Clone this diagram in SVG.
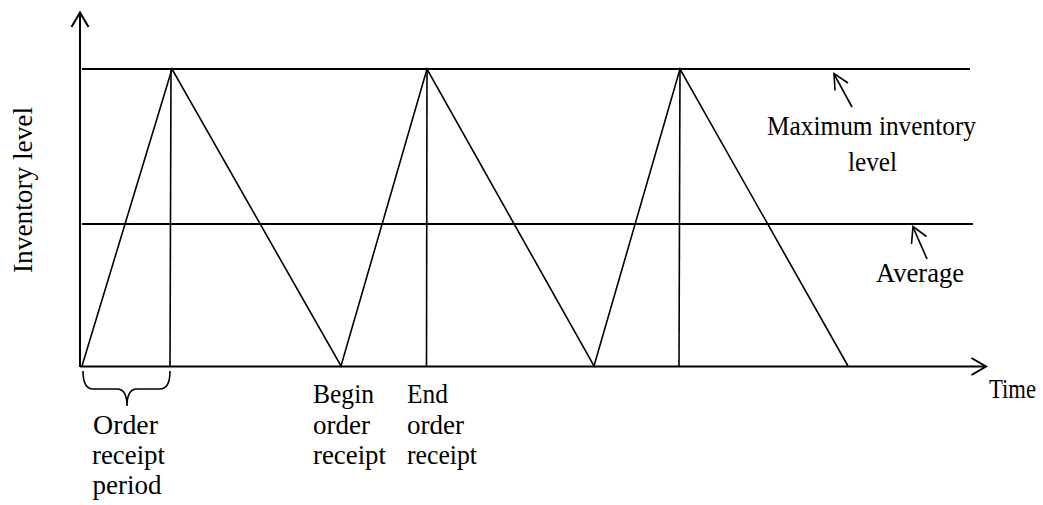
<svg xmlns="http://www.w3.org/2000/svg" width="1043" height="505" viewBox="0 0 1043 505">
<style>
.ln{stroke:#000;stroke-width:2;fill:none;stroke-linecap:butt}
.th{stroke:#000;stroke-width:1.6;fill:none}
.t{font-family:'Liberation Serif','Times New Roman',serif;font-size:27px;fill:#000}
</style>
<rect width="1043" height="505" fill="#fff"/>
<g id="axes">
<line class="ln" x1="80" y1="367" x2="80" y2="13"/>
<polyline class="ln" points="71.5,27 80,12.5 88.5,27"/>
<line class="ln" x1="80" y1="366.5" x2="985" y2="366.5"/>
<polyline class="ln" points="971.5,358 986,366.5 971.5,375"/>
</g>
<g id="levels">
<line class="ln" x1="82" y1="69" x2="970" y2="69"/>
<line class="ln" x1="82" y1="224" x2="973" y2="224"/>
</g>
<g id="connectors">
<polyline class="th" points="82,366 172,69 341,366 427,69 594,366 680,69 848,366"/>
<line class="th" x1="171" y1="69" x2="170" y2="366"/>
<line class="th" x1="427" y1="69" x2="426.5" y2="366"/>
<line class="th" x1="680" y1="69" x2="679" y2="366"/>
<line class="th" x1="852" y1="107" x2="834" y2="74"/>
<polyline class="th" points="848,83 834,73.5 835,90.5"/>
<line class="th" x1="927" y1="259" x2="913" y2="227"/>
<polyline class="th" points="926.5,236.5 913,226.5 911.5,244"/>
<path class="th" d="M83,371 Q83,389 93,389 L117,389 Q127,389 127,406 Q127,389 137,389 L160,389 Q170,389 170,371"/>
</g>
<g id="labels" class="t" font-family="Liberation Serif, serif" font-size="27">
<text x="0" y="0" transform="translate(31.5,190) rotate(-90)" text-anchor="middle" textLength="166" lengthAdjust="spacingAndGlyphs">Inventory level</text>
<text x="767" y="135" textLength="209" lengthAdjust="spacingAndGlyphs">Maximum inventory</text>
<text x="848" y="171" textLength="49" lengthAdjust="spacingAndGlyphs">level</text>
<text x="876" y="282" textLength="88" lengthAdjust="spacingAndGlyphs">Average</text>
<text x="989" y="398" textLength="47" lengthAdjust="spacingAndGlyphs">Time</text>
<text x="93" y="434" textLength="65" lengthAdjust="spacingAndGlyphs">Order</text>
<text x="92" y="464" textLength="73" lengthAdjust="spacingAndGlyphs">receipt</text>
<text x="92.5" y="494" textLength="69" lengthAdjust="spacingAndGlyphs">period</text>
<text x="313" y="403" textLength="61" lengthAdjust="spacingAndGlyphs">Begin</text>
<text x="313" y="434" textLength="57" lengthAdjust="spacingAndGlyphs">order</text>
<text x="313" y="464" textLength="73" lengthAdjust="spacingAndGlyphs">receipt</text>
<text x="407" y="403" textLength="41" lengthAdjust="spacingAndGlyphs">End</text>
<text x="407" y="434" textLength="57" lengthAdjust="spacingAndGlyphs">order</text>
<text x="407" y="464" textLength="70" lengthAdjust="spacingAndGlyphs">receipt</text>
</g>
</svg>
